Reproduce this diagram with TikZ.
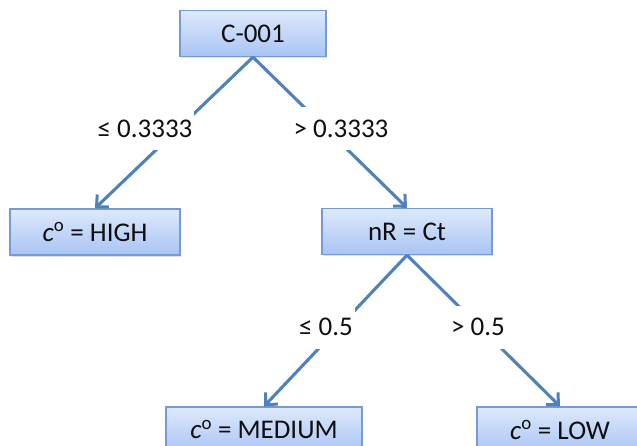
\documentclass[tikz,border=0pt]{standalone}
\usepackage{fontspec}
\setmainfont{Carlito}
\usepackage{xcolor}
\usepackage{tikz}
\usetikzlibrary{arrows.meta, shadows}

\definecolor{boxtop}{RGB}{222,233,252}
\definecolor{boxbot}{RGB}{168,196,244}
\definecolor{boxline}{RGB}{118,155,212}
\definecolor{edgeblue}{RGB}{79,129,189}
\definecolor{ink}{RGB}{15,15,15}

\begin{document}
\begin{tikzpicture}[x=1pt, y=-1pt,
    every node/.style={font=\fontsize{27}{31}\selectfont, text=ink},
    tnode/.style={draw=boxline, line width=1.3pt, top color=boxtop, bottom color=boxbot,
      minimum height=46pt, inner sep=0pt,
      drop shadow={shadow xshift=1.2pt, shadow yshift=-1.8pt, opacity=0.25, fill=gray}},
    edge/.style={draw=edgeblue, line width=3.1pt,
      -{Straight Barb[length=9pt, width=17pt, line width=3pt]}},
    cond/.style={fill=white, inner sep=2pt, minimum height=43pt}]
    \useasboundingbox (0,0) rectangle (637,446);
    % Boxes
    \node[tnode, minimum width=146pt] (root) at (253,33.5) {C-001};
    \node[tnode, minimum width=170pt] (high) at (95,232) {\textit{c}\textsuperscript{o} = HIGH};
    \node[tnode, minimum width=170pt] (nr) at (407,231.5) {nR = Ct};
    \node[tnode, minimum width=196pt] (medium) at (264,430) {\textit{c}\textsuperscript{o} = MEDIUM};
    \node[tnode, minimum width=166pt] (low) at (560,430) {\textit{c}\textsuperscript{o} = LOW};
    % Edges
    \draw[edge] (root.south) -- (high.north);
    \draw[edge] (root.south) -- (nr.north);
    \draw[edge] (nr.south) -- (medium.north);
    \draw[edge] (nr.south) -- (low.north);
    % Split labels
    \node[cond] (le1) at (145,129) {≤ 0.3333};
    \node[cond] (gt1) at (341,129) {> 0.3333};
    \node[cond] (le2) at (326,327) {≤ 0.5};
    \node[cond] (gt2) at (478,327) {> 0.5};
\end{tikzpicture}
\end{document}
